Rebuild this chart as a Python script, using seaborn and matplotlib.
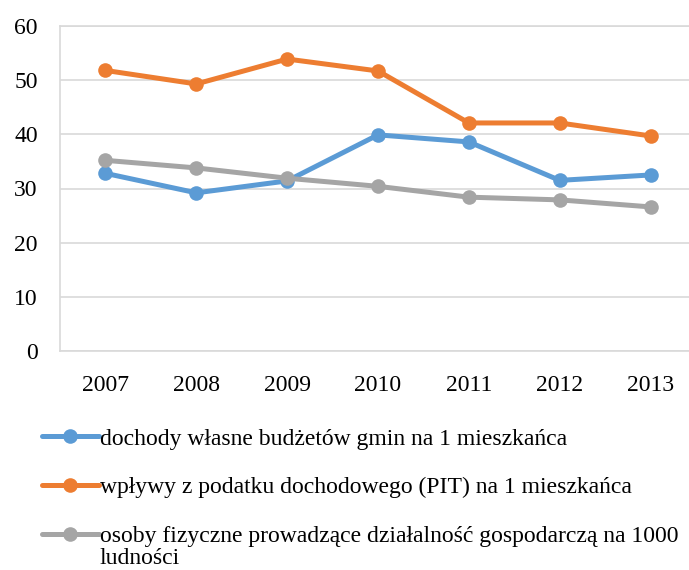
import matplotlib
matplotlib.use("Agg")
import matplotlib.pyplot as plt
import seaborn as sns
import pandas as pd

years = ["2007", "2008", "2009", "2010", "2011", "2012", "2013"]
dochody = [32.8, 29.2, 31.4, 39.9, 38.6, 31.5, 32.5]
pit = [51.8, 49.3, 53.9, 51.7, 42.1, 42.1, 39.7]
osoby = [35.2, 33.8, 31.9, 30.4, 28.4, 27.9, 26.6]
labels = [
    "dochody własne budżetów gmin na 1 mieszkańca",
    "wpływy z podatku dochodowego (PIT) na 1 mieszkańca",
    "osoby fizyczne prowadzące działalność gospodarczą na 1000\nludności",
]
colors = ["#5B9BD5", "#ED7D31", "#A5A5A5"]

rows = []
for lab, vals in zip(labels, [dochody, pit, osoby]):
    for i, (y, v) in enumerate(zip(years, vals)):
        rows.append({"idx": i, "rok": y, "wartosc": v, "seria": lab})
df = pd.DataFrame(rows)

sns.set_theme(style="white")
plt.rcParams["font.family"] = ["Liberation Serif", "DejaVu Serif"]

fig = plt.figure(figsize=(6.89, 5.70), dpi=100)
ax = fig.add_axes([60 / 689, 219 / 570, 636 / 689, 325 / 570])

sns.lineplot(data=df, x="idx", y="wartosc", hue="seria", palette=colors,
             marker="o", markersize=10.5, markeredgewidth=0, linewidth=3.6,
             ax=ax, legend=True)

ax.set_xlim(-0.5, 6.5)
ax.set_ylim(0, 60)
ax.set_yticks(range(0, 61, 10))
ax.set_xticks(range(len(years)))
ax.set_xticklabels(years)
ax.set_xlabel("")
ax.set_ylabel("")
ax.tick_params(axis="both", labelsize=17, length=0, colors="black")
ax.tick_params(axis="y", pad=16)
ax.tick_params(axis="x", pad=17)
ax.grid(axis="y", color="#D9D9D9", linewidth=1.2)
ax.set_axisbelow(True)
for s in ax.spines.values():
    s.set_color("#D9D9D9")
    s.set_linewidth(1.2)

handles, labs = ax.get_legend_handles_labels()
ax.get_legend().remove()
first_lines = [l.split("\n")[0] for l in labs]
leg = fig.legend(handles, first_lines, loc="upper left",
                 bbox_to_anchor=(42 / 689, 1 - 428 / 570),
                 frameon=False, fontsize=17, handlelength=2.4,
                 handletextpad=0.05, labelspacing=1.15, borderpad=0,
                 borderaxespad=0)
for t in leg.get_texts():
    t.set_color("black")

# continuation lines of multi-line labels
fig.canvas.draw()
renderer = fig.canvas.get_renderer()
for lab, t in zip(labs, leg.get_texts()):
    extra = lab.split("\n")[1:]
    if extra:
        bb = t.get_window_extent(renderer)
        for k, line in enumerate(extra, start=1):
            fig.text(bb.x0 / fig.bbox.width,
                     (bb.y0 - 22 * k + (bb.height / 2)) / fig.bbox.height,
                     line, fontsize=17, color="black", va="center", ha="left")

fig.savefig("out.png", dpi=100)
